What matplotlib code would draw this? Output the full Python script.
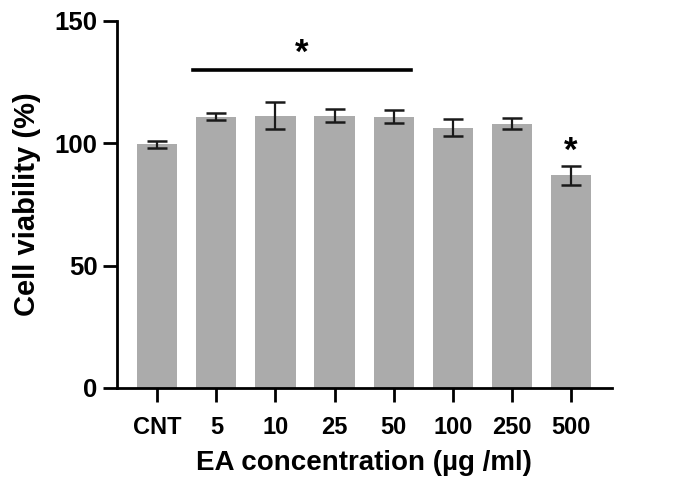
import numpy as np
import matplotlib.pyplot as plt

plt.rcParams['font.family'] = ['Liberation Sans', 'DejaVu Sans']
plt.rcParams['font.weight'] = 'bold'

groups = ['CNT', '5', '10', '25', '50', '100', '250', '500']
viability = [99.6, 110.9, 111.3, 111.2, 110.9, 106.3, 108.0, 86.8]
sem = [1.4, 1.6, 5.6, 2.7, 2.8, 3.5, 2.2, 3.8]

fig = plt.figure(figsize=(6.85, 4.96), dpi=100)
ax = fig.add_axes([0.171, 0.218, 0.722, 0.740])

x = np.arange(len(groups))
ax.bar(x, viability, width=0.68, color='#ababab', zorder=1)
ax.errorbar(x, viability, yerr=sem, fmt='none', ecolor='#1a1a1a',
            elinewidth=1.6, capsize=7, capthick=1.8, zorder=2)

# significance marks
ax.plot([0.6, 4.3], [130, 130], color='black', lw=2.6, clip_on=False)
ax.text(2.45, 130, '*', ha='center', va='bottom', fontsize=25)
ax.text(7, viability[7] + sem[7] - 0.8, '*', ha='center', va='bottom', fontsize=25)

ax.set_xlim(-0.68, 7.69)
ax.set_ylim(0, 150)
ax.set_yticks([0, 50, 100, 150])
ax.set_xticks(x)
ax.set_xticklabels(groups)
ax.spines['top'].set_visible(False)
ax.spines['right'].set_visible(False)
for s in ['left', 'bottom']:
    ax.spines[s].set_linewidth(2)
ax.tick_params(width=2, length=10)
ax.tick_params(axis='y', labelsize=18.5, pad=4)
ax.tick_params(axis='x', labelsize=17, pad=10)
ax.set_xlabel('EA concentration (µg /ml)', fontsize=20, fontweight='bold', labelpad=8)
ax.set_ylabel('Cell viability (%)', fontsize=21, fontweight='bold', labelpad=10)

fig.savefig('out.png', dpi=100)
